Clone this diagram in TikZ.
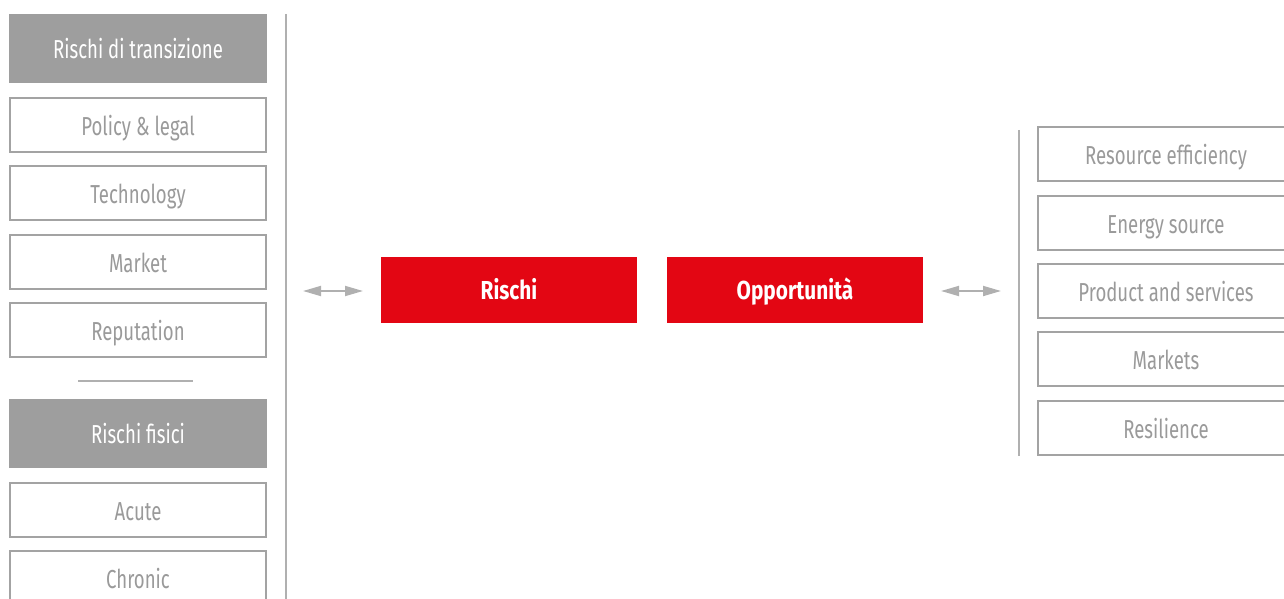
\documentclass[tikz,border=0pt]{standalone}
\usepackage{fontspec}
\setmainfont{Fira Sans}[FakeStretch=0.715, BoldFeatures={FakeStretch=0.8}]
\usetikzlibrary{arrows.meta,positioning}
\definecolor{boxgray}{HTML}{A3A3A3}
\definecolor{txtgray}{HTML}{9A9A9A}
\definecolor{fillgray}{HTML}{9E9E9E}
\definecolor{linegray}{HTML}{B0B0B0}
\definecolor{rred}{HTML}{E30613}
\tikzset{
  x=1pt, y=-1pt,
  itembox/.style={draw=boxgray, line width=2pt, fill=white, minimum width=256pt, minimum height=54pt, inner sep=0pt, text height=21pt, text depth=0pt, text=txtgray, font=\fontsize{26}{30}\selectfont},
  headbox/.style={fill=fillgray, draw=none, minimum width=258pt, minimum height=69pt, inner sep=0pt, text height=20pt, text depth=0pt, text=white, font=\fontsize{26}{30}\selectfont},
  redbox/.style={fill=rred, draw=none, minimum width=256pt, minimum height=66pt, inner sep=0pt, text height=18pt, text depth=0pt, text=white, font=\fontsize{26}{30}\selectfont\bfseries},
  divline/.style={draw=linegray, line width=1.5pt},
  dblarrow/.style={draw=linegray, line width=1.8pt, {Triangle[length=18pt,width=10pt]}-{Triangle[length=18pt,width=10pt]}}
}
\begin{document}
\begin{tikzpicture}
\useasboundingbox (0,0) rectangle (1284,599);
% left column
\node[headbox] (rt) at (138,48.5) {Rischi di transizione};
\node[itembox] (pl) at (138,125) {Policy \& legal};
\node[itembox] (te) at (138,193) {Technology};
\node[itembox] (ma) at (138,262) {Market};
\node[itembox] (re) at (138,330) {Reputation};
\coordinate (sepL) at (78,381);
\coordinate (sepR) at (193,381);
\draw[divline] (sepL) -- (sepR);
\node[headbox] (rf) at (138,433.5) {Rischi fisici};
\node[itembox] (ac) at (138,510) {Acute};
\node[itembox] (ch) at (138,578) {Chronic};
\coordinate (vlT) at (286,14);
\coordinate (vlB) at (286,599);
\draw[divline] (vlT) -- (vlB);
% center
\node[redbox] (ri) at (509,290) {Rischi};
\node[redbox] (op) at (795,290) {Opportunità};
\coordinate (a1s) at (303,291);
\coordinate (a1e) at (363,291);
\draw[dblarrow] (a1s) -- (a1e);
\coordinate (a2s) at (941,291);
\coordinate (a2e) at (1001,291);
\draw[dblarrow] (a2s) -- (a2e);
% right column
\coordinate (vrT) at (1019,130);
\coordinate (vrB) at (1019,456);
\draw[divline] (vrT) -- (vrB);
\node[itembox] (r1) at (1166,154) {Resource efficiency};
\node[itembox] (r2) at (1166,223) {Energy source};
\node[itembox] (r3) at (1166,291) {Product and services};
\node[itembox] (r4) at (1166,359) {Markets};
\node[itembox] (r5) at (1166,428) {Resilience};
\end{tikzpicture}
\end{document}
